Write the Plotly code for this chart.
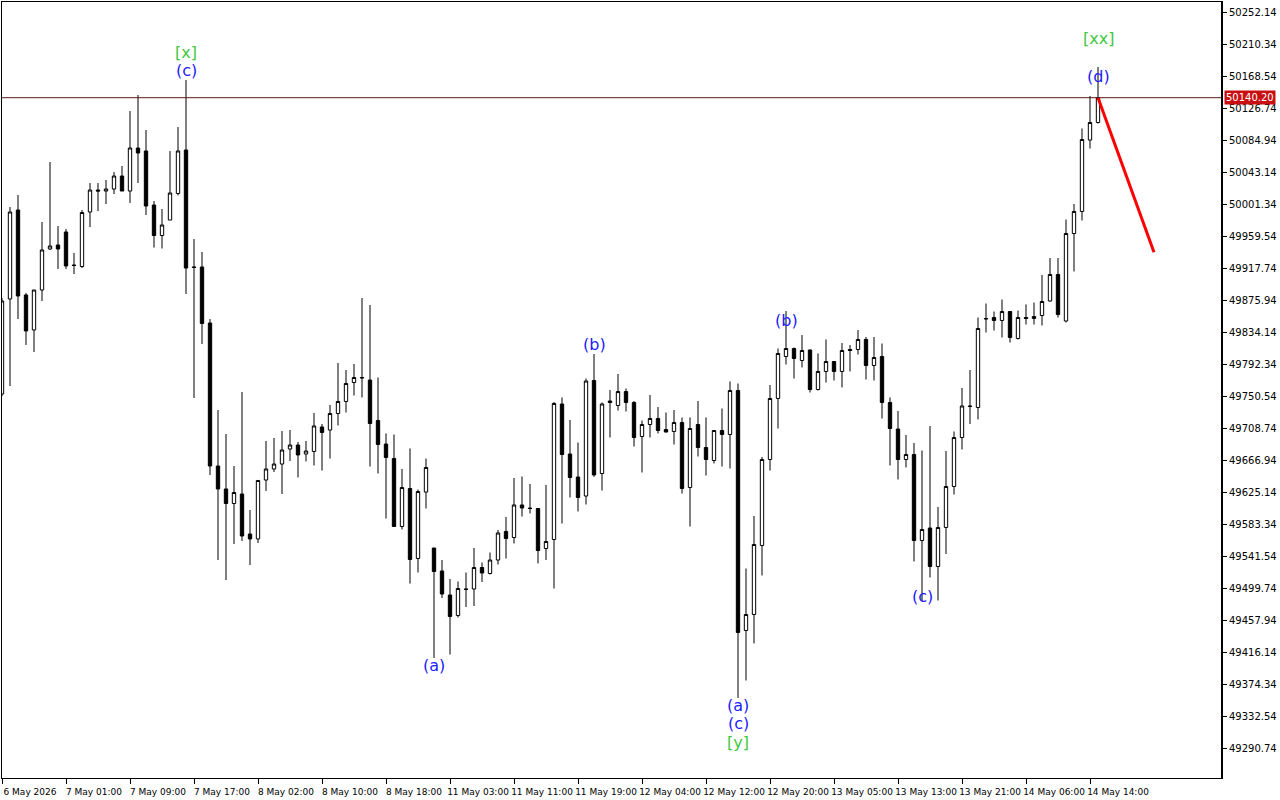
import plotly.graph_objects as go

bars = list(range(138))

opens = [49753.2, 49877.3, 49993.5, 49882.5, 49836.8, 49889.0, 49942.6, 49947.8, 49964.8, 49921.7,
         49919.7, 49990.9, 50019.6, 50018.3, 50020.9, 50037.9, 50018.3, 50074.5, 50070.6, 50000.0,
         49960.2, 49980.4, 50015.1, 50071.9, 49919.1, 49919.1, 49845.9, 49659.1, 49629.1, 49610.1,
         49622.5, 49570.3, 49563.8, 49640.8, 49655.2, 49661.7, 49681.3, 49686.5, 49674.8, 49678.1,
         49710.1, 49706.1, 49727.7, 49743.4, 49768.2, 49774.7, 49771.4, 49718.5, 49687.8, 49668.9,
         49580.1, 49629.7, 49538.3, 49625.1, 49552.0, 49522.0, 49490.6, 49463.8, 49498.4, 49498.4,
         49526.5, 49518.7, 49536.3, 49573.6, 49565.7, 49608.2, 49604.2, 49603.6, 49551.3, 49563.1,
         49740.1, 49674.8, 49644.7, 49619.9, 49770.8, 49649.3, 49744.0, 49738.1, 49756.4, 49742.1,
         49697.6, 49713.3, 49721.2, 49706.8, 49704.2, 49715.9, 49631.0, 49713.3, 49683.3, 49666.3,
         49705.5, 49700.3, 49757.7, 49444.2, 49465.1, 49555.3, 49667.6, 49747.3, 49802.1, 49812.6,
         49796.9, 49810.6, 49759.0, 49782.6, 49795.6, 49782.6, 49811.3, 49811.3, 49824.4, 49790.4,
         49802.1, 49742.1, 49707.4, 49667.6, 49674.1, 49561.8, 49578.1, 49527.8, 49578.8, 49632.3,
         49696.3, 49736.8, 49735.5, 49851.8, 49853.1, 49849.2, 49860.9, 49825.7, 49853.1, 49851.8,
         49855.7, 49874.6, 49909.3, 49848.5, 49962.8, 49991.6, 50084.9, 50107.8]

highs = [49878.6, 49997.4, 50013.1, 49885.1, 49889.0, 49977.8, 50056.2, 49972.6, 49968.7, 49937.3,
         49993.5, 50028.8, 50028.8, 50032.7, 50043.1, 50051.0, 50122.8, 50143.7, 50098.0, 50005.3,
         49994.8, 50070.6, 50101.9, 50163.3, 49955.6, 49938.6, 49851.1, 49732.3, 49700.9, 49659.1,
         49755.8, 49601.6, 49640.8, 49691.8, 49695.7, 49704.8, 49706.1, 49690.5, 49691.8, 49728.3,
         49714.0, 49738.8, 49793.7, 49784.5, 49792.3, 49878.6, 49869.4, 49774.7, 49701.6, 49700.3,
         49655.2, 49682.0, 49628.4, 49668.9, 49552.0, 49536.3, 49511.5, 49508.2, 49520.0, 49552.0,
         49533.1, 49546.1, 49575.5, 49592.5, 49643.4, 49645.4, 49635.6, 49603.6, 49634.3, 49742.7,
         49748.6, 49719.2, 49689.8, 49773.4, 49805.4, 49742.1, 49758.4, 49779.3, 49760.3, 49744.0,
         49718.5, 49751.9, 49736.2, 49729.0, 49732.3, 49722.5, 49722.5, 49744.0, 49722.5, 49705.5,
         49734.2, 49769.5, 49766.9, 49525.2, 49593.8, 49670.9, 49764.9, 49812.6, 49861.6, 49813.9,
         49830.2, 49811.3, 49806.1, 49824.4, 49795.6, 49819.8, 49817.2, 49836.8, 49827.6, 49827.6,
         49819.1, 49748.6, 49731.0, 49699.6, 49689.2, 49679.4, 49711.4, 49605.6, 49678.7, 49704.2,
         49761.0, 49784.5, 49853.1, 49871.4, 49860.9, 49876.6, 49860.9, 49862.2, 49870.1, 49872.7,
         49908.6, 49930.8, 49930.8, 49981.1, 50001.3, 50100.0, 50142.4, 50180.3]

lows = [49750.5, 49763.6, 49851.1, 49817.2, 49808.0, 49874.6, 49941.3, 49916.4, 49916.4, 49909.9,
        49917.7, 49971.3, 49992.2, 50001.3, 50014.4, 50018.3, 50002.7, 50028.8, 49987.0, 49944.5,
        49943.2, 49980.4, 50012.5, 49883.8, 49747.9, 49818.5, 49647.4, 49536.3, 49510.2, 49557.2,
        49561.1, 49529.8, 49558.5, 49626.5, 49651.3, 49622.5, 49665.6, 49644.1, 49665.0, 49659.8,
        49653.2, 49668.9, 49712.0, 49729.0, 49751.2, 49748.6, 49658.5, 49649.3, 49590.5, 49579.4,
        49576.2, 49505.6, 49520.0, 49603.6, 49408.3, 49486.7, 49412.9, 49461.2, 49474.9, 49476.2,
        49507.6, 49517.4, 49530.4, 49538.3, 49557.9, 49593.1, 49597.1, 49531.8, 49536.3, 49499.1,
        49584.0, 49618.0, 49599.7, 49608.8, 49645.0, 49627.1, 49696.3, 49731.6, 49730.3, 49684.6,
        49650.6, 49696.3, 49701.6, 49702.9, 49687.2, 49623.2, 49580.1, 49671.5, 49646.7, 49662.4,
        49658.5, 49655.8, 49356.1, 49378.9, 49427.3, 49516.1, 49653.2, 49708.1, 49791.7, 49773.4,
        49787.8, 49755.1, 49757.7, 49768.2, 49770.8, 49761.7, 49782.6, 49804.8, 49772.1, 49770.8,
        49721.2, 49659.8, 49641.5, 49657.2, 49534.4, 49482.8, 49513.5, 49483.4, 49544.2, 49621.9,
        49680.7, 49714.0, 49719.9, 49833.5, 49836.1, 49827.0, 49820.4, 49824.4, 49843.9, 49843.9,
        49842.6, 49874.0, 49853.1, 49846.6, 49913.2, 49979.8, 50073.8, 50106.5]

closes = [49874.6, 49990.9, 49881.2, 49835.5, 49889.0, 49941.3, 49946.5, 49942.6, 49920.4, 49921.0,
          49990.2, 50019.6, 50018.3, 50020.9, 50037.9, 50018.3, 50074.5, 50068.0, 49998.7, 49960.2,
          49973.9, 50015.7, 50070.6, 49917.7, 49918.5, 49845.3, 49659.1, 49629.1, 49610.1, 49624.5,
          49567.7, 49563.8, 49640.2, 49655.2, 49661.7, 49680.0, 49686.5, 49673.5, 49678.7, 49711.4,
          49702.9, 49727.7, 49743.4, 49766.9, 49774.7, 49774.2, 49714.6, 49687.2, 49670.2, 49580.1,
          49631.0, 49537.0, 49625.8, 49657.2, 49521.3, 49491.9, 49462.5, 49499.1, 49498.0, 49526.5,
          49519.3, 49536.3, 49571.6, 49564.4, 49608.2, 49604.2, 49603.6, 49548.7, 49560.5, 49740.8,
          49674.1, 49644.1, 49618.0, 49770.1, 49647.4, 49740.1, 49742.1, 49756.4, 49742.1, 49696.3,
          49713.3, 49721.2, 49705.5, 49703.5, 49715.9, 49629.7, 49708.1, 49683.3, 49667.6, 49705.5,
          49700.3, 49757.7, 49441.6, 49465.1, 49556.6, 49667.6, 49747.3, 49806.1, 49812.6, 49799.5,
          49810.0, 49759.0, 49782.6, 49795.6, 49782.6, 49810.0, 49810.0, 49824.4, 49790.4, 49800.8,
          49742.1, 49708.1, 49667.6, 49674.1, 49561.8, 49576.2, 49527.8, 49578.8, 49632.3, 49696.3,
          49737.5, 49737.3, 49838.7, 49851.3, 49849.2, 49860.9, 49827.0, 49853.1, 49851.8, 49854.4,
          49874.0, 49909.3, 49857.0, 49962.8, 49991.6, 50085.6, 50107.8, 50140.2]

time_tick_bars = [0, 8, 16, 24, 32, 40, 48, 56, 64, 72, 80, 88, 96, 104, 112, 120, 128, 136]
time_tick_labels = ["6 May 2026", "7 May 01:00", "7 May 09:00", "7 May 17:00", "8 May 02:00",
                    "8 May 10:00", "8 May 18:00", "11 May 03:00", "11 May 11:00", "11 May 19:00",
                    "12 May 04:00", "12 May 12:00", "12 May 20:00", "13 May 05:00", "13 May 13:00",
                    "13 May 21:00", "14 May 06:00", "14 May 14:00"]

price_ticks = [49290.74, 49332.54, 49374.34, 49416.14, 49457.94, 49499.74, 49541.54, 49583.34,
               49625.14, 49666.94, 49708.74, 49750.54, 49792.34, 49834.14, 49875.94, 49917.74,
               49959.54, 50001.34, 50043.14, 50084.94, 50126.74, 50168.54, 50210.34, 50252.14]

current_price = 50140.20

forecast_bars = [137, 144]
forecast_prices = [50140.2, 49938.2]

wave_labels = ["[x]", "(c)", "[xx]", "(d)", "(b)", "(a)", "(a)", "(c)", "[y]", "(b)", "(c)"]
wave_bars = [23, 23, 137, 137, 74, 54, 92, 92, 92, 98, 115]
wave_prices = [50199.9, 50175.1, 50216.9, 50168.5, 49817.2, 49397.9, 49346.9, 49323.4, 49297.3,
               49849.8, 49489.3]
wave_kinds = ["major", "minor", "major", "minor", "minor", "minor", "minor", "minor", "major",
              "minor", "minor"]

BLUE = "#1c1cff"
GREEN = "#3ec83e"
FONT = "DejaVu Sans"

fig = go.Figure()
fig.add_trace(go.Candlestick(
    x=bars, open=opens, high=highs, low=lows, close=closes,
    increasing=dict(line=dict(color="black", width=1), fillcolor="white"),
    decreasing=dict(line=dict(color="black", width=1), fillcolor="black"),
    whiskerwidth=0, showlegend=False, hoverinfo="skip"))

fig.add_trace(go.Scatter(x=forecast_bars, y=forecast_prices, mode="lines",
                         line=dict(color="#ff0000", width=3), showlegend=False,
                         hoverinfo="skip"))

fig.add_shape(type="line", xref="paper", x0=0, x1=1, yref="y", y0=current_price,
              y1=current_price, line=dict(color="#5a1a1a", width=1))
fig.add_shape(type="line", xref="paper", x0=1, x1=1, yref="paper", y0=0, y1=1,
              line=dict(color="black", width=2))

for t, b, p, k in zip(wave_labels, wave_bars, wave_prices, wave_kinds):
    fig.add_annotation(x=b, y=p, text=t, showarrow=False, xanchor="center", yanchor="middle",
                       font=dict(family=FONT, size=16, color=GREEN if k == "major" else BLUE))

fig.add_annotation(xref="paper", x=1, y=current_price, text="%.2f" % current_price,
                   showarrow=False, xanchor="left", yanchor="middle", xshift=2,
                   bgcolor="#c81010", borderpad=1,
                   font=dict(family=FONT, size=10, color="white"))

fig.update_layout(
    width=1280, height=800,
    margin=dict(l=2, r=58, t=2, b=22, autoexpand=False),
    paper_bgcolor="white", plot_bgcolor="white",
    boxgap=0.4,
    showlegend=False,
    xaxis=dict(range=[0, 152.5], showgrid=False, zeroline=False, automargin=False,
               tickmode="array", tickvals=time_tick_bars, ticktext=time_tick_labels,
               tickangle=0,
               ticks="outside", ticklen=5, tickcolor="black", tickwidth=1,
               showline=True, linecolor="black", linewidth=1, mirror=True,
               rangeslider=dict(visible=False),
               tickfont=dict(family=FONT, size=9, color="black"),
               ticklabelshift=28, ticklabelstandoff=0),
    yaxis=dict(side="right", range=[49251.56, 50265.21], showgrid=False, zeroline=False,
               automargin=False,
               tickmode="array", tickvals=price_ticks,
               ticktext=["%.2f" % v for v in price_ticks],
               ticks="outside", ticklen=4, tickcolor="black",
               showline=True, linecolor="black", linewidth=1, mirror=True,
               tickfont=dict(family=FONT, size=10, color="black")),
)

fig.write_html("out.html", config={"displayModeBar": False},
               post_script="document.body.style.margin='0';document.body.style.padding='0';"
                           "document.body.style.overflow='hidden';")
